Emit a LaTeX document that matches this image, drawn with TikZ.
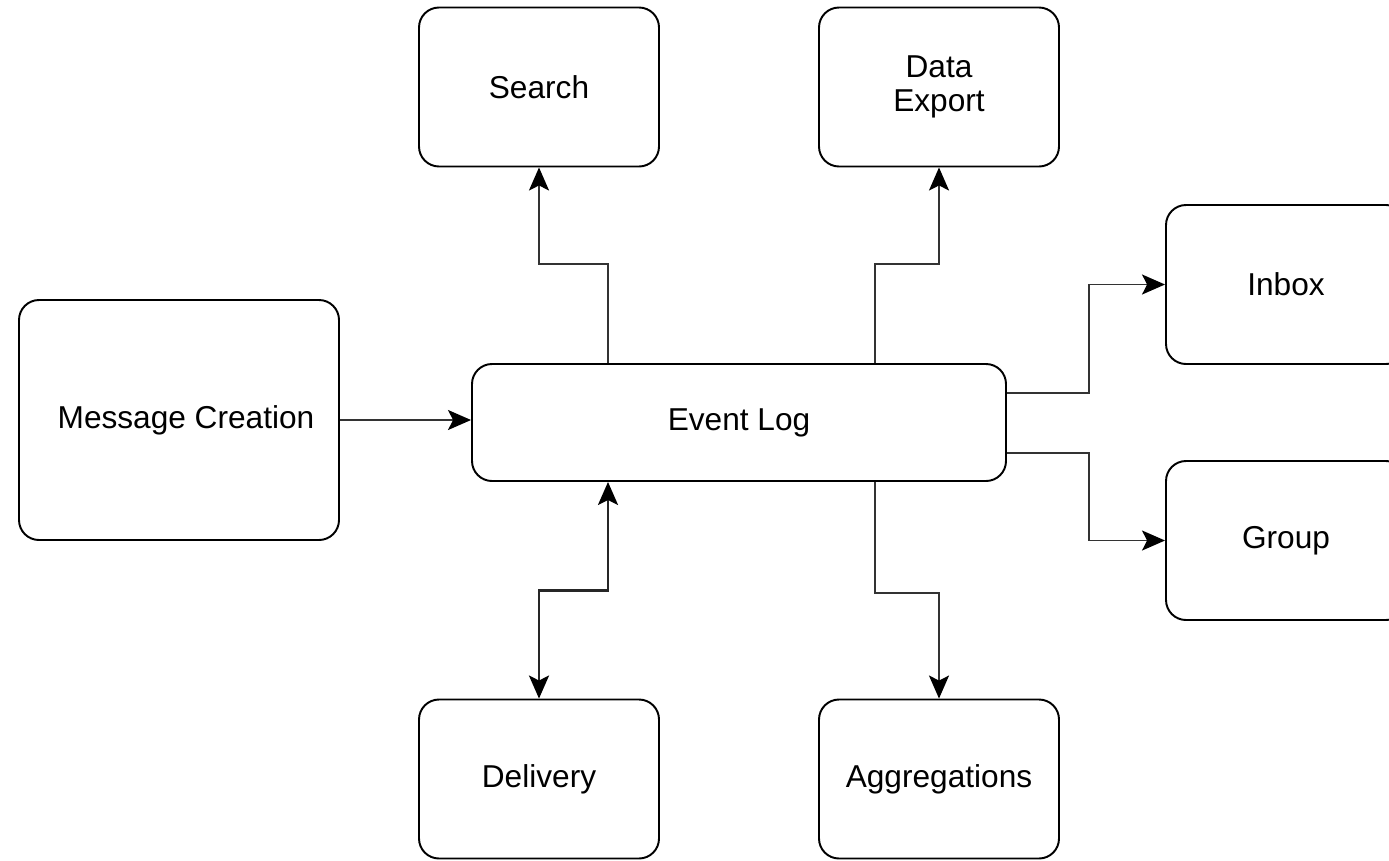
\documentclass[tikz,border=0pt]{standalone}
\usepackage{fontspec}
\setmainfont{Liberation Sans}
\usetikzlibrary{arrows.meta, positioning, calc}

\begin{document}
\begin{tikzpicture}[
        >={Stealth[length=0.46cm, width=0.4cm, inset=0.1cm, color=black]},
        box/.style={draw=black, line width=1.1pt, rounded corners=0.4cm, fill=white,
                    minimum width=4.8cm, minimum height=3.18cm, align=center,
                    font=\fontsize{18}{19.5}\selectfont},
        conn/.style={draw=black!80, line width=1pt, ->},
        conn2/.style={draw=black!85, line width=1.5pt, <->}]
        \useasboundingbox (0,0) rectangle (27.78,-17.2);
        \clip (0,0) rectangle (27.78,-17.2);
        \node[box] (search) at (10.78,-1.74) {Search};
        \node[box] (export) at (18.78,-1.74) {Data\\Export};
        \node[box] (inbox) at (25.72,-5.69) {Inbox};
        \node[box] (group) at (25.72,-10.81) {Group};
        \node[box, minimum width=6.4cm, minimum height=4.8cm] (msg) at (3.58,-8.4) {\hspace*{0.28cm}Message Creation};
        \node[box, minimum width=10.68cm, minimum height=2.34cm] (evlog) at (14.78,-8.45) {Event Log};
        \node[box] (delivery) at (10.78,-15.58) {Delivery};
        \node[box] (aggreg) at (18.78,-15.58) {Aggregations};
        \draw[conn] (msg.east) -- (msg.east -| evlog.west);
        \draw[conn] ([xshift=-2.62cm]evlog.north) -- ++(0,1.98) -| (search.south);
        \draw[conn] ([xshift=2.72cm]evlog.north) -- ++(0,1.98) -| (export.south);
        \draw[conn] ([yshift=0.59cm]evlog.east) -- ++(1.64,0) |- (inbox.west);
        \draw[conn] ([yshift=-0.61cm]evlog.east) -- ++(1.64,0) |- (group.west);
        \draw[conn] ([xshift=2.72cm]evlog.south) -- ++(0,-2.22) -| (aggreg.north);
        \draw[conn2] (delivery.north) -- ++(0,2.16) -| ([xshift=-2.62cm]evlog.south);
      \end{tikzpicture}
\end{document}
